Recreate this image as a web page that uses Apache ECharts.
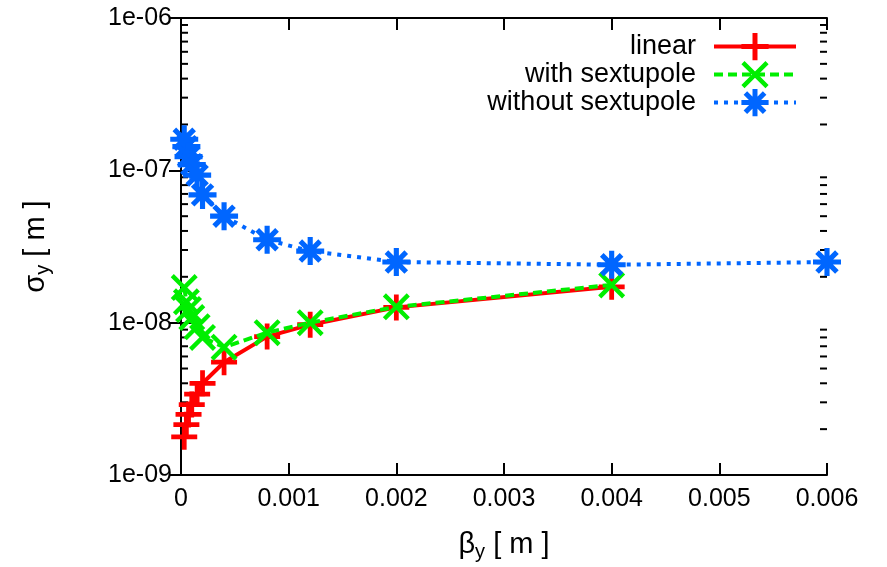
<!DOCTYPE html>
<html>
<head>
<meta charset="utf-8">
<script src="https://cdn.jsdelivr.net/npm/echarts@6/dist/echarts.min.js"></script>
<style>
  html, body { margin: 0; padding: 0; background: #fff; }
  #main { width: 887px; height: 567px; }
</style>
</head>
<body>
<div id="main"></div>
<script>
// beta_y [m] values (x axis)
const betaY = [0.00003, 0.00005, 0.00007, 0.0001, 0.00015, 0.0002, 0.0004, 0.0008, 0.0012, 0.002, 0.004, 0.006];
// sigma_y [m] for each case
const sigmaLinear = [1.78e-9, 2.14e-9, 2.5e-9, 2.9e-9, 3.4e-9, 4.0e-9, 5.5e-9, 8.1e-9, 9.7e-9, 1.26e-8, 1.72e-8];
const sigmaWithSext = [1.7e-8, 1.37e-8, 1.22e-8, 1.08e-8, 9.4e-9, 8.0e-9, 6.9e-9, 8.6e-9, 1.0e-8, 1.27e-8, 1.77e-8];
const sigmaWithoutSext = [1.6e-7, 1.43e-7, 1.23e-7, 1.09e-7, 9.3e-8, 6.9e-8, 5.0e-8, 3.5e-8, 2.95e-8, 2.5e-8, 2.4e-8, 2.5e-8];
const seriesNames = ['linear', 'with sextupole', 'without sextupole'];
// minor ticks of the log axis (2..9 in each decade)
const minorMult = [2, 3, 4, 5, 6, 7, 8, 9];
const decades = [1e-9, 1e-8, 1e-7];

const FONT = "'Liberation Sans', Arial, sans-serif";
const RED = '#ff0000', GREEN = '#00ee00', BLUE = '#0066ff';

// marker shapes: gnuplot-like plus, cross and asterisk
const plusPath = 'path://M-2.2,-12L2.2,-12L2.2,12L-2.2,12Z M-12,-2.2L12,-2.2L12,2.2L-12,2.2Z';
const crossPath = 'path://M-10.44,-13.56L13.56,10.44L10.44,13.56L-13.56,-10.44Z M10.44,-13.56L13.56,-10.44L-10.44,13.56L-13.56,10.44Z';
const starPath = 'path://M-2.2,-12L2.2,-12L2.2,12L-2.2,12Z M-12,-2.2L12,-2.2L12,2.2L-12,2.2Z ' +
  'M-6.93,-10.05L10.05,6.93L6.93,10.05L-10.05,-6.93Z M6.93,-10.05L10.05,-6.93L-6.93,10.05L-10.05,6.93Z';

function pairs(ys) {
  return ys.map((y, i) => [betaY[i], y]);
}

const minorTicks = [];
decades.forEach(d => minorMult.forEach(m => minorTicks.push([0, m * d])));

function expLabel(v) {
  const e = Math.round(Math.log10(v));
  const a = Math.abs(e);
  return '1e' + (e < 0 ? '-' : '+') + (a < 10 ? '0' + a : a);
}

const chart = echarts.init(document.getElementById('main'));

const axisLine = { lineStyle: { color: '#000', width: 2 } };
const nameRich = {
  a: { fontFamily: FONT, fontSize: 29, color: '#000', lineHeight: 34 },
  b: { fontFamily: FONT, fontSize: 20, color: '#000', lineHeight: 12, verticalAlign: 'bottom' }
};
const legendBase = {
  orient: 'horizontal',
  align: 'right',
  right: 84,
  itemWidth: 82,
  itemHeight: 34,
  lineStyle: { width: 4 },
  textStyle: { fontFamily: FONT, fontSize: 27, color: '#000', padding: [0, 13, 0, 0] },
  selectedMode: false
};

const option = {
  animation: false,
  textStyle: { fontFamily: FONT },
  grid: { left: 181, right: 60, top: 18, bottom: 91, show: false },
  legend: [
    Object.assign({ top: 28, data: [seriesNames[0]] }, legendBase),
    Object.assign({ top: 56, data: [seriesNames[1]] }, legendBase),
    Object.assign({ top: 84, data: [seriesNames[2]] }, legendBase)
  ],
  xAxis: [{
    type: 'value',
    min: 0,
    max: 0.006,
    interval: 0.001,
    name: '{a|β}{b|y}{a| [ m ]}',
    nameLocation: 'middle',
    nameGap: 53,
    nameTextStyle: { rich: nameRich },
    axisLine: axisLine,
    axisTick: { inside: true, length: 12, lineStyle: { color: '#000', width: 2 } },
    axisLabel: { fontFamily: FONT, fontSize: 25, color: '#000', margin: 12 },
    splitLine: { show: false }
  }, {
    type: 'value',
    position: 'top',
    min: 0,
    max: 0.006,
    interval: 0.001,
    axisLine: axisLine,
    axisTick: { inside: true, length: 12, lineStyle: { color: '#000', width: 2 } },
    axisLabel: { show: false },
    splitLine: { show: false }
  }],
  yAxis: [{
    type: 'log',
    logBase: 10,
    min: 1e-9,
    max: 1e-6,
    name: '{a|σ}{b|y}{a| [ m ]}',
    nameLocation: 'middle',
    nameRotate: 90,
    nameGap: 128,
    nameTextStyle: { rich: nameRich },
    axisLine: axisLine,
    axisTick: { inside: true, length: 12, lineStyle: { color: '#000', width: 2 } },
    axisLabel: { fontFamily: FONT, fontSize: 25, color: '#000', margin: 9, formatter: expLabel },
    splitLine: { show: false }
  }, {
    type: 'log',
    logBase: 10,
    min: 1e-9,
    max: 1e-6,
    position: 'right',
    axisLine: axisLine,
    axisTick: { inside: true, length: 12, lineStyle: { color: '#000', width: 2 } },
    axisLabel: { show: false },
    splitLine: { show: false }
  }],
  series: [
    {
      name: 'minor',
      type: 'custom',
      silent: true,
      clip: false,
      data: minorTicks,
      renderItem: function (params, api) {
        const p = api.coord([0, api.value(1)]);
        const cs = params.coordSys;
        const style = { stroke: '#000', lineWidth: 2 };
        return {
          type: 'group',
          children: [
            { type: 'line', shape: { x1: cs.x, y1: p[1], x2: cs.x + 7, y2: p[1] }, style: style },
            { type: 'line', shape: { x1: cs.x + cs.width, y1: p[1], x2: cs.x + cs.width - 7, y2: p[1] }, style: style }
          ]
        };
      }
    },
    {
      name: seriesNames[0],
      type: 'line',
      data: pairs(sigmaLinear),
      symbol: plusPath,
      symbolSize: 26,
      color: RED,
      itemStyle: { color: RED },
      lineStyle: { color: RED, width: 4 },
      z: 3
    },
    {
      name: seriesNames[1],
      type: 'line',
      data: pairs(sigmaWithSext),
      symbol: crossPath,
      symbolSize: 27,
      color: GREEN,
      itemStyle: { color: GREEN },
      lineStyle: { color: GREEN, width: 4, type: [9, 5] },
      z: 4
    },
    {
      name: seriesNames[2],
      type: 'line',
      data: pairs(sigmaWithoutSext),
      symbol: starPath,
      symbolSize: 28,
      color: BLUE,
      itemStyle: { color: BLUE },
      lineStyle: { color: BLUE, width: 4, type: [4, 6] },
      z: 5
    }
  ]
};

chart.setOption(option);
</script>
</body>
</html>
